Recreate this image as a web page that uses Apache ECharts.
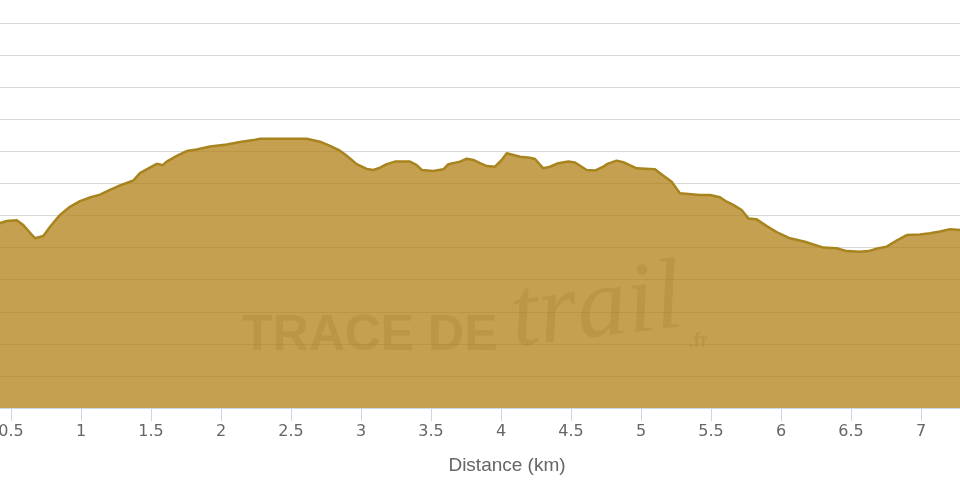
<!DOCTYPE html>
<html>
<head>
<meta charset="utf-8">
<script src="https://cdn.jsdelivr.net/npm/echarts@6/dist/echarts.min.js"></script>
<style>
html,body{margin:0;padding:0;background:#fff;}
#chart{width:960px;height:480px;}
</style>
</head>
<body>
<div id="chart"></div>
<script>
// Distance along the trail (km)
const distanceKm = [
  0.380, 0.421, 0.469, 0.541, 0.588, 0.671, 0.731, 0.779, 0.850, 0.921, 0.993,
  1.064, 1.136, 1.207, 1.279, 1.374, 1.421, 1.469, 1.541, 1.584, 1.612, 1.684,
  1.755, 1.826, 1.921, 2.041, 2.136, 2.231, 2.279, 2.374, 2.612, 2.707, 2.779,
  2.850, 2.898, 2.969, 3.041, 3.088, 3.136, 3.184, 3.243, 3.350, 3.398, 3.434,
  3.516, 3.588, 3.624, 3.707, 3.755, 3.802, 3.850, 3.898, 3.957, 4.005, 4.041,
  4.136, 4.207, 4.243, 4.302, 4.350, 4.409, 4.481, 4.529, 4.612, 4.671, 4.731,
  4.755, 4.826, 4.874, 4.969, 5.064, 5.100, 5.136, 5.219, 5.279, 5.421, 5.493,
  5.564, 5.612, 5.659, 5.719, 5.767, 5.826, 5.898, 5.969, 6.064, 6.171, 6.302,
  6.398, 6.469, 6.564, 6.624, 6.695, 6.755, 6.826, 6.898, 6.993, 7.064, 7.136,
  7.207, 7.279, 7.320
];
// Relative elevation (one grid step = 10)
const elevation = [
  57.4, 57.6, 58.3, 58.5, 57.0, 52.9, 53.6, 56.5, 60.2, 62.7, 64.5,
  65.6, 66.5, 68.0, 69.4, 70.9, 73.2, 74.4, 76.1, 75.7, 76.8, 78.6,
  80.1, 80.6, 81.5, 82.1, 82.9, 83.5, 83.9, 83.9, 83.9, 83.0, 81.7,
  80.2, 78.6, 76.0, 74.5, 74.2, 74.9, 76.0, 76.8, 76.8, 75.7, 74.2,
  73.9, 74.4, 76.0, 76.8, 77.7, 77.3, 76.3, 75.4, 75.2, 77.3, 79.4,
  78.3, 78.0, 77.6, 74.7, 75.2, 76.3, 76.8, 76.5, 74.2, 74.0, 75.2,
  76.0, 77.1, 76.6, 74.7, 74.5, 74.4, 73.2, 70.5, 66.9, 66.4, 66.4,
  65.7, 64.3, 63.3, 61.7, 59.1, 58.8, 56.7, 54.8, 52.9, 51.8, 50.0,
  49.8, 48.9, 48.7, 48.9, 49.8, 50.3, 52.2, 53.9, 54.1, 54.5, 55.0,
  55.7, 55.5, 56.3
];
const xTickLabels = ['0.5','1','1.5','2','2.5','3','3.5','4','4.5','5','5.5','6','6.5','7'];
const xAxisTitle = 'Distance (km)';

const seriesData = distanceKm.map((d, i) => [d, elevation[i]]);

const chart = echarts.init(document.getElementById('chart'), null, {renderer: 'canvas'});
chart.setOption({
  animation: false,
  backgroundColor: '#ffffff',
  grid: {left: -59, right: -31, top: 23, bottom: 72, containLabel: false, outerBoundsMode: 'none'},
  xAxis: {
    type: 'value',
    min: 0, max: 7.5, interval: 0.5,
    name: xAxisTitle,
    nameLocation: 'middle',
    nameGap: 48,
    nameTextStyle: {color: '#666666', fontSize: 19, fontFamily: 'Liberation Sans', padding: [0, 0, 0, 82]},
    axisLine: {show: true, lineStyle: {color: '#ccd6eb', width: 1}},
    axisTick: {show: true, length: 13, lineStyle: {color: '#ccd6eb', width: 1}},
    axisLabel: {
      color: '#666666', fontSize: 16, fontFamily: 'DejaVu Sans', margin: 16,
      formatter: function (v) { const s = String(+(+v).toFixed(2)); return xTickLabels.indexOf(s) >= 0 ? s : ''; }
    },
    splitLine: {show: false}
  },
  yAxis: {
    type: 'value',
    min: 0, max: 120, interval: 10,
    axisLine: {show: false},
    axisTick: {show: false},
    axisLabel: {show: false},
    splitLine: {show: true, lineStyle: {color: '#d8d8d8', width: 1}}
  },
  series: [{
    type: 'line',
    data: seriesData,
    symbol: 'none',
    smooth: false,
    lineStyle: {color: '#a8841f', width: 2.5, join: 'round'},
    areaStyle: {color: 'rgba(178,128,22,0.75)', opacity: 1}
  }],
  graphic: [
    {type: 'text', left: 242, top: 311, z: 100,
     style: {text: 'TRACE DE', font: 'bold 50px "Liberation Sans"', fill: 'rgba(150,110,25,0.2)'}},
    {type: 'text', left: 505, top: 250, z: 100, rotation: 0.12,
     style: {text: 'trail', font: 'italic 100px "Liberation Serif"', fill: 'rgba(150,110,25,0.2)'}},
    {type: 'text', left: 688, top: 331, z: 100,
     style: {text: '.fr', font: 'bold 20px "Liberation Sans"', fill: 'rgba(150,110,25,0.2)'}}
  ]
});
</script>
</body>
</html>
